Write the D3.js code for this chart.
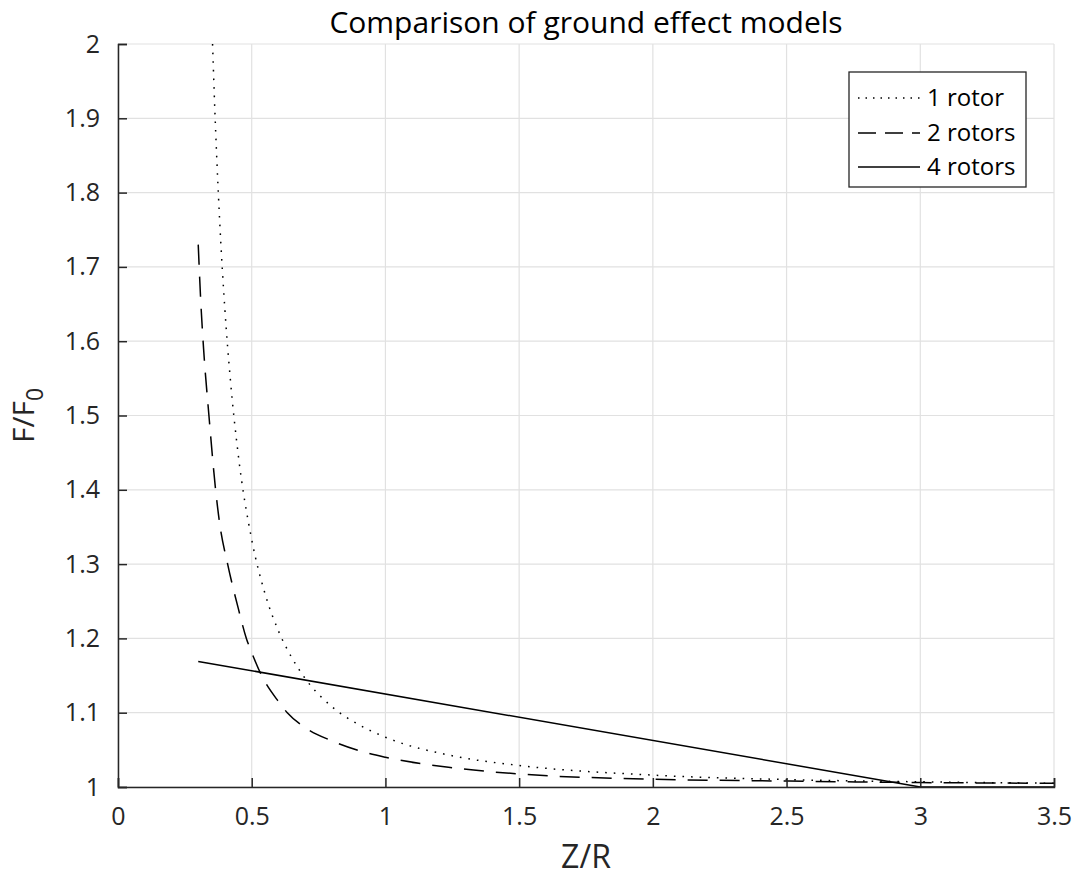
<!DOCTYPE html>
<html>
<head>
<meta charset="utf-8">
<script src="https://cdn.jsdelivr.net/npm/d3@7"></script>
<style>
  body { margin: 0; background: #fff; }
  text { font-family: "Open Sans", "DejaVu Sans", sans-serif; fill: #262626; }
</style>
</head>
<body>
<script>
// ground effect curves
var zOne = [0.3536, 0.36, 0.38, 0.40, 0.42, 0.45, 0.50, 0.55, 0.60, 0.65, 0.70, 0.80, 0.90, 1.00, 1.25, 1.50, 2.00, 2.50, 3.00, 3.50];
var oneRotor = [2.0, 1.932, 1.763, 1.641, 1.549, 1.446, 1.333, 1.260, 1.210, 1.174, 1.146, 1.108, 1.084, 1.067, 1.042, 1.029, 1.016, 1.010, 1.007, 1.005];

var zTwo = [0.30, 0.31, 0.32, 0.34, 0.365, 0.38, 0.41, 0.45, 0.48, 0.50, 0.533, 0.60, 0.633, 0.70, 0.80, 0.90, 1.00, 1.25, 1.50, 2.00, 2.50, 3.00, 3.50];
var twoRotors = [1.73, 1.65, 1.59, 1.50, 1.40, 1.355, 1.30, 1.24, 1.20, 1.181, 1.153, 1.115, 1.10, 1.08, 1.062, 1.049, 1.040, 1.026, 1.0175, 1.0105, 1.008, 1.006, 1.005];

var zFour = [0.30, 3.00, 3.50];
var fourRotors = [1.169, 1.0, 1.0];

var xTicks = [0, 0.5, 1, 1.5, 2, 2.5, 3, 3.5];
var yTicks = [1, 1.1, 1.2, 1.3, 1.4, 1.5, 1.6, 1.7, 1.8, 1.9, 2];
var seriesNames = ['1 rotor', '2 rotors', '4 rotors'];

var margin = { top: 44, right: 18, bottom: 90, left: 118 };
var width = 1072 - margin.left - margin.right;
var height = 877 - margin.top - margin.bottom;

var svg = d3.select('body').append('svg')
	.attr('width', 1072)
	.attr('height', 877);

var g = svg.append('g')
	.attr('transform', `translate(${margin.left}, ${margin.top})`);

var xScale = d3.scaleLinear().domain([0, 3.5]).range([0, width]);
var yScale = d3.scaleLinear().domain([1, 2]).range([height, 0]);

// grid
g.append('g')
	.selectAll('line.vx')
	.data(xTicks).enter().append('line')
	.attr('x1', d => xScale(d)).attr('x2', d => xScale(d))
	.attr('y1', 0).attr('y2', height)
	.attr('stroke', '#e1e1e1').attr('stroke-width', 1.2);
g.append('g')
	.selectAll('line.hy')
	.data(yTicks).enter().append('line')
	.attr('y1', d => yScale(d)).attr('y2', d => yScale(d))
	.attr('x1', 0).attr('x2', width)
	.attr('stroke', '#e1e1e1').attr('stroke-width', 1.2);

svg.append('clipPath').attr('id', 'plot')
	.append('rect').attr('width', width).attr('height', height + 1);

var line = d3.line()
	.x(d => xScale(d[0]))
	.y(d => yScale(d[1]));

var series = [
	{ pts: d3.zip(zOne, oneRotor), dash: '1.6,7' },
	{ pts: d3.zip(zTwo, twoRotors), dash: '20,12' },
	{ pts: d3.zip(zFour, fourRotors), dash: null }
];

var lines = g.append('g').attr('clip-path', 'url(#plot)');
series.forEach(function(s) {
	lines.append('path')
		.datum(s.pts)
		.attr('fill', 'none')
		.attr('stroke', '#000')
		.attr('stroke-width', 1.5)
		.attr('stroke-dasharray', s.dash)
		.attr('d', line.curve(s.dash ? d3.curveMonotoneX : d3.curveLinear));
});

// axes (left and bottom only, ticks inward)
var xAxis = g.append('g')
	.attr('transform', `translate(0, ${height})`)
	.call(d3.axisBottom(xScale).tickValues(xTicks).tickSize(-9).tickPadding(22).tickFormat(d3.format('')));
var yAxis = g.append('g')
	.call(d3.axisLeft(yScale).tickValues(yTicks).tickSize(-9).tickPadding(18).tickFormat(d3.format('')));

[xAxis, yAxis].forEach(function(a) {
	a.select('.domain').attr('stroke', '#262626').attr('stroke-width', 1.5);
	a.selectAll('.tick line').attr('stroke', '#262626').attr('stroke-width', 1.5);
	a.selectAll('.tick text').style('font-size', '25px').attr('fill', '#262626');
});
xAxis.selectAll('.tick text').attr('dy', '0.62em');

// title & axis labels
svg.append('text')
	.attr('x', margin.left + width / 2).attr('y', 33)
	.attr('text-anchor', 'middle')
	.style('font-size', '30px').style('fill', '#000')
	.text('Comparison of ground effect models');

svg.append('text')
	.attr('x', margin.left + width / 2).attr('y', 868)
	.attr('text-anchor', 'middle')
	.style('font-size', '32px')
	.text('Z/R');

var yl = svg.append('text')
	.attr('transform', `translate(34, ${margin.top + height / 2}) rotate(-90)`)
	.attr('text-anchor', 'middle')
	.style('font-size', '30px');
yl.append('tspan').text('F/F');
yl.append('tspan').attr('dy', 9).style('font-size', '23px').text('0');

// legend
var legend = svg.append('g').attr('transform', 'translate(849, 72)');
legend.append('rect')
	.attr('width', 177).attr('height', 115)
	.attr('fill', '#fff').attr('stroke', '#262626').attr('stroke-width', 1.3);
var rows = [26, 61, 95];
series.forEach(function(s, i) {
	legend.append('line')
		.attr('x1', 9).attr('x2', 71)
		.attr('y1', rows[i]).attr('y2', rows[i])
		.attr('stroke', '#000').attr('stroke-width', 1.3)
		.attr('stroke-dasharray', i === 0 ? '1.5,6' : (i === 1 ? '18,9' : null));
	legend.append('text')
		.attr('x', 78).attr('y', rows[i] + 8)
		.style('font-size', '24px')
		.style('fill', '#000')
		.text(seriesNames[i]);
});
</script>
</body>
</html>
